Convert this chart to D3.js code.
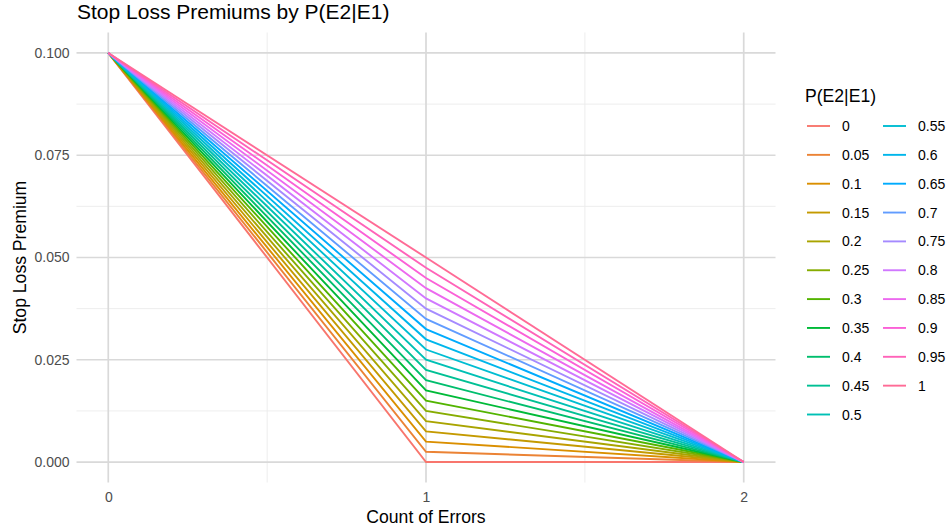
<!DOCTYPE html>
<html>
<head>
<meta charset="utf-8">
<script src="https://cdn.jsdelivr.net/npm/d3@7"></script>
<style>
  body { margin: 0; background: #fff; }
  svg text { font-family: "Liberation Sans", Arial, sans-serif; }
</style>
</head>
<body>
<svg id="chart"></svg>
<script>
// P(E2|E1) levels
const probs = [0, 0.05, 0.1, 0.15, 0.2, 0.25, 0.3, 0.35, 0.4, 0.45, 0.5,
               0.55, 0.6, 0.65, 0.7, 0.75, 0.8, 0.85, 0.9, 0.95, 1];
const counts = [0, 1, 2];
// stop loss premium at each count, one value per level
const premCount0 = [0.1, 0.1, 0.1, 0.1, 0.1, 0.1, 0.1, 0.1, 0.1, 0.1, 0.1,
                    0.1, 0.1, 0.1, 0.1, 0.1, 0.1, 0.1, 0.1, 0.1, 0.1];
const premCount1 = [0, 0.0025, 0.005, 0.0075, 0.01, 0.0125, 0.015, 0.0175, 0.02, 0.0225, 0.025,
                    0.0275, 0.03, 0.0325, 0.035, 0.0375, 0.04, 0.0425, 0.045, 0.0475, 0.05];
const premCount2 = [0, 0, 0, 0, 0, 0, 0, 0, 0, 0, 0,
                    0, 0, 0, 0, 0, 0, 0, 0, 0, 0];
const xTicks = [0, 1, 2];
const yTicks = [0, 0.025, 0.05, 0.075, 0.1];

const width = 949, height = 531;
const svg = d3.select("#chart").attr("width", width).attr("height", height);

// ggplot-like hue palette (polar Luv)
function hclLuv(h, c, l) {
    const Xn = 95.047, Yn = 100, Zn = 108.883;
    const den = Xn + 15 * Yn + 3 * Zn;
    const un = 4 * Xn / den, vn = 9 * Yn / den;
    const hr = h * Math.PI / 180;
    const U = c * Math.cos(hr), V = c * Math.sin(hr);
    const Y = Yn * (l > 8 ? Math.pow((l + 16) / 116, 3) : l / 903.3);
    const u = U / (13 * l) + un, v = V / (13 * l) + vn;
    const X = 9 * Y * u / (4 * v);
    const Z = -X / 3 - 5 * Y + 3 * Y / v;
    const x = X / 100, y = Y / 100, z = Z / 100;
    let rgb = [
        3.240479 * x - 1.537150 * y - 0.498535 * z,
        -0.969256 * x + 1.875992 * y + 0.041556 * z,
        0.055648 * x - 0.204043 * y + 1.057311 * z
    ];
    rgb = rgb.map(c => {
        c = c <= 0.0031308 ? 12.92 * c : 1.055 * Math.pow(c, 1 / 2.4) - 0.055;
        return Math.round(Math.max(0, Math.min(1, c)) * 255);
    });
    return d3.rgb(rgb[0], rgb[1], rgb[2]).formatHex();
}
const n = probs.length;
const colors = probs.map((p, i) => hclLuv(15 + i * 360 / n, 100, 65));

// scales
const x = d3.scaleLinear().domain([-0.1, 2.1]).range([76.5, 775.5]);
const y = d3.scaleLinear().domain([-0.005, 0.105]).range([482.5, 32.5]);

// grid
const grid = svg.append("g");
const xMinor = [0.5, 1.5];
const yMinor = [0.0125, 0.0375, 0.0625, 0.0875];
grid.selectAll(".xminor").data(xMinor).enter().append("line")
    .attr("x1", d => x(d)).attr("x2", d => x(d))
    .attr("y1", y.range()[0]).attr("y2", y.range()[1])
    .attr("stroke", "#ebebeb").attr("stroke-width", 0.9);
grid.selectAll(".yminor").data(yMinor).enter().append("line")
    .attr("y1", d => y(d)).attr("y2", d => y(d))
    .attr("x1", x.range()[0]).attr("x2", x.range()[1])
    .attr("stroke", "#ebebeb").attr("stroke-width", 0.9);
grid.selectAll(".xmajor").data(xTicks).enter().append("line")
    .attr("x1", d => x(d)).attr("x2", d => x(d))
    .attr("y1", y.range()[0]).attr("y2", y.range()[1])
    .attr("stroke", "#d9d9d9").attr("stroke-width", 1.7);
grid.selectAll(".ymajor").data(yTicks).enter().append("line")
    .attr("y1", d => y(d)).attr("y2", d => y(d))
    .attr("x1", x.range()[0]).attr("x2", x.range()[1])
    .attr("stroke", "#d9d9d9").attr("stroke-width", 1.7);

// axes (labels only)
const xAxis = svg.append("g")
    .attr("transform", "translate(0," + y.range()[0] + ")")
    .call(d3.axisBottom(x).tickValues(xTicks).tickFormat(d3.format("d")).tickSize(0).tickPadding(10));
xAxis.select(".domain").remove();
xAxis.selectAll("text").attr("font-size", 14).attr("fill", "#4d4d4d")
    .style("font-family", "Liberation Sans, Arial, sans-serif");

const yAxis = svg.append("g")
    .attr("transform", "translate(" + x.range()[0] + ",0)")
    .call(d3.axisLeft(y).tickValues(yTicks).tickFormat(d3.format(".3f")).tickSize(0).tickPadding(7));
yAxis.select(".domain").remove();
yAxis.selectAll("text").attr("font-size", 14).attr("fill", "#4d4d4d")
    .style("font-family", "Liberation Sans, Arial, sans-serif");

// lines
const series = probs.map((p, i) => ({
    key: p,
    color: colors[i],
    vals: [premCount0[i], premCount1[i], premCount2[i]].map((v, j) => ({x: counts[j], y: v}))
}));
const line = d3.line().x(d => x(d.x)).y(d => y(d.y));
svg.append("g").selectAll("path").data(series).enter().append("path")
    .attr("d", d => line(d.vals))
    .attr("fill", "none")
    .attr("stroke", d => d.color)
    .attr("stroke-width", 1.9);

// titles
svg.append("text").attr("x", 77).attr("y", 18.5)
    .attr("font-size", 21).attr("fill", "#000")
    .text("Stop Loss Premiums by P(E2|E1)");
svg.append("text").attr("x", (x.range()[0] + x.range()[1]) / 2).attr("y", 522.5)
    .attr("text-anchor", "middle").attr("font-size", 17.6)
    .text("Count of Errors");
svg.append("text")
    .attr("transform", "translate(25.5," + ((y.range()[0] + y.range()[1]) / 2) + ") rotate(-90)")
    .attr("text-anchor", "middle").attr("font-size", 17.6)
    .text("Stop Loss Premium");

// legend
const legend = svg.append("g");
legend.append("text").attr("x", 805).attr("y", 101.5)
    .attr("font-size", 17.6).text("P(E2|E1)");
const rowsPerCol = 11, rowH = 28.85, col0 = 807, colW = 76, row0 = 126;
const items = legend.selectAll(".item").data(series).enter().append("g")
    .attr("transform", (d, i) => "translate(" + (col0 + Math.floor(i / rowsPerCol) * colW) + "," + (row0 + (i % rowsPerCol) * rowH) + ")");
items.append("line").attr("x1", 0).attr("x2", 23).attr("y1", 0).attr("y2", 0)
    .attr("stroke", d => d.color).attr("stroke-width", 1.9);
items.append("text").attr("x", 35).attr("y", 5)
    .attr("font-size", 14).attr("fill", "#000")
    .text(d => String(d.key));
</script>
</body>
</html>
